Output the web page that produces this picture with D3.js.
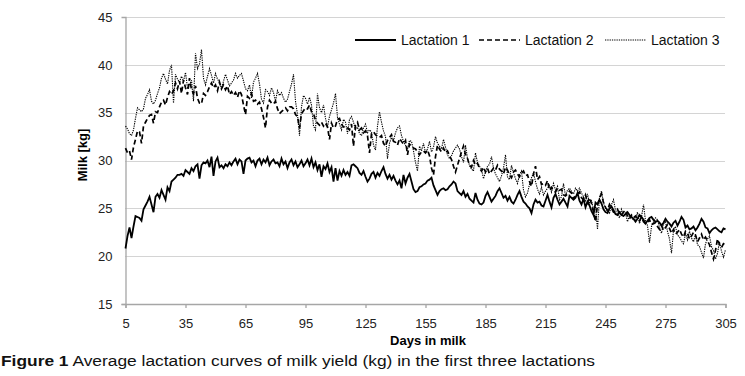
<!DOCTYPE html>
<html lang="en">
<head>
  <meta charset="UTF-8">
  <title>Average lactation curves</title>
  <script src="https://d3js.org/d3.v7.min.js"></script>
  <style>
    body {
      margin: 0;
      padding: 0;
      background: #fff;
      font-family: "Liberation Sans", Arial, sans-serif;
    }
    svg { display: block; }
    .axis path, .axis line { stroke: #a6a6a6; stroke-width: 1.3px; }
    .axis text { font-size: 13px; fill: #222; }
  </style>
</head>
<body>
  <svg id="chart" width="745" height="376"></svg>

  <script>
    // daily average milk yield (kg), days 5..305
    const firstDay = 5;

    const lactation1 = [
      20.8, 22.1, 23.0, 21.9, 23.1, 24.2, 24.1, 24.0, 23.7, 24.9,
      25.3, 25.7, 26.2, 25.4, 24.6, 26.2, 26.5, 26.1, 26.9, 26.4,
      25.9, 27.2, 26.8, 27.8, 28.0, 28.2, 28.5, 28.5, 28.6, 28.4,
      29.0, 28.8, 28.6, 29.2, 28.9, 29.4, 29.6, 28.1, 29.5, 29.8,
      29.7, 30.0, 29.3, 30.4, 28.4, 29.9, 30.3, 29.3, 29.5, 29.2,
      29.6, 29.4, 29.8, 29.5, 29.9, 30.2, 29.6, 30.1, 29.9, 28.6,
      30.0, 30.2, 30.3, 29.8, 30.0, 29.4, 30.0, 30.2, 29.6, 30.1,
      29.8, 30.3, 29.5, 29.9, 30.1, 29.7, 29.8, 29.4, 30.2, 29.6,
      29.9, 29.2, 29.8, 30.1, 29.5, 29.9, 29.3, 29.6, 30.0, 29.4,
      29.7, 30.1, 29.5, 30.2, 29.3, 29.8, 29.0, 29.6, 28.3, 29.4,
      29.1, 29.7, 28.8, 29.3, 27.8, 29.2, 27.9, 28.9, 28.4, 29.0,
      28.5, 28.8, 28.4, 29.5, 29.6, 29.4, 29.2, 28.7, 28.5, 28.9,
      28.3, 27.8, 28.1, 28.6, 28.8, 28.2, 28.7, 28.4, 28.9, 29.3,
      28.6, 28.1, 28.5, 28.0, 28.4, 27.9, 27.5, 27.9, 27.1, 28.5,
      27.6, 28.2, 28.6, 27.8, 27.0, 26.7, 26.8, 27.2, 27.3, 27.5,
      27.6, 27.9, 28.0, 28.2, 27.4, 26.9, 26.4, 26.8, 27.0, 27.1,
      26.9, 27.0, 27.3, 27.5, 27.8, 27.6, 26.8, 26.6, 26.4, 26.8,
      26.2, 26.5, 26.0, 25.8, 25.6, 26.6, 25.9, 25.5, 25.4, 25.6,
      26.3, 26.7, 26.2, 25.7, 26.0, 26.3, 26.8, 27.1, 26.6, 26.1,
      26.3, 25.8, 26.2, 25.7, 25.5, 25.9, 26.4, 26.8, 26.2, 25.7,
      25.5, 25.2, 25.0, 24.5, 25.4, 25.9, 25.6, 25.7, 25.3, 25.2,
      25.8, 26.4, 25.7, 25.1, 26.1, 26.5, 25.9, 25.4, 25.7, 26.0,
      25.6, 25.2, 26.3, 26.1, 25.9, 26.1, 26.6, 25.8, 25.4, 26.0,
      25.1, 25.7, 25.3, 24.7, 24.3, 25.6, 25.4, 25.9, 25.5, 24.9,
      24.6, 24.5, 25.0, 25.2, 24.8, 24.4, 24.3, 24.6, 24.3, 24.2,
      24.4, 24.6, 24.3, 24.1, 23.9, 23.6, 23.9, 24.3, 24.1, 23.8,
      23.4, 23.7, 24.0, 24.1, 23.8, 23.6, 23.7, 23.5, 23.2, 23.5,
      23.9, 23.6, 23.4, 23.1, 23.5, 23.7, 23.2, 23.6, 24.1, 23.8,
      23.0, 23.2, 22.8, 22.9, 23.1, 22.7, 23.0, 23.4, 23.9, 23.6,
      23.0, 22.9, 22.4, 22.7, 22.9, 23.0, 22.8, 22.6, 22.5, 22.9,
      22.8
    ];

    const lactation2 = [
      31.3, 30.8, 31.0, 30.1, 31.4, 32.2, 33.1, 33.0, 31.8, 33.6,
      34.0, 34.4, 34.7, 34.8, 33.9, 35.1, 35.0, 35.6, 36.1, 36.3,
      35.8, 36.6, 37.2, 36.9, 37.3, 38.1, 37.5, 38.3, 37.0, 38.4,
      37.6, 36.9, 38.6, 37.4, 37.0, 37.8, 36.5, 36.0, 35.9, 37.0,
      36.8, 37.2, 37.7, 38.1, 37.6, 37.9, 37.3, 38.2, 37.5, 37.9,
      37.4, 37.8, 36.9, 37.2, 36.8, 37.1, 36.6, 37.3, 36.9, 35.8,
      34.8, 36.7, 36.5, 37.0, 36.2, 36.3, 35.9, 36.1, 35.4, 34.5,
      33.4, 35.6, 36.3, 36.0, 35.9, 36.2, 35.4, 34.9, 35.1, 35.3,
      35.5, 35.2, 35.6, 35.6, 35.4, 34.8, 34.6, 33.4, 34.9, 35.2,
      35.5, 35.4, 35.8, 35.1, 34.9, 34.2, 33.9, 33.7, 34.0, 33.6,
      33.9, 33.5, 32.2, 33.9, 33.4, 33.6, 34.3, 34.4, 33.8, 33.5,
      33.6, 33.4, 33.2, 33.8, 31.5, 33.7, 34.0, 33.2, 33.4, 32.9,
      33.1, 32.6, 30.8, 32.8, 33.0, 32.7, 32.5, 32.4, 32.6, 31.8,
      31.5, 32.1, 32.4, 32.7, 32.0, 31.9, 31.6, 32.3, 32.0, 31.7,
      32.1, 30.6, 31.7, 31.5, 31.3, 31.2, 30.9, 30.6, 30.9, 31.0,
      30.8, 31.1, 30.5, 29.2, 28.5, 30.4, 31.6, 31.2, 30.9, 31.3,
      30.8, 31.0, 30.5, 30.1, 29.4, 28.8, 29.5, 30.2, 30.9, 31.5,
      30.6, 30.2, 29.5, 29.3, 30.0, 29.5, 29.7, 29.2, 28.9, 29.3,
      28.8, 29.2, 28.6, 28.9, 29.2, 29.0, 29.5, 29.1, 28.9, 28.6,
      29.3, 29.0, 28.5, 28.2, 28.8, 29.0, 28.6, 28.3, 28.7, 28.9,
      28.4, 28.5, 27.8, 27.3, 28.6, 29.4, 28.0, 28.3, 27.5, 27.6,
      27.4, 27.9, 26.9, 27.2, 26.8, 26.7, 27.1, 26.9, 27.0, 26.4,
      26.3, 26.5, 26.8, 26.6, 26.0, 26.3, 26.5, 26.7, 26.1, 25.9,
      26.4, 25.6, 26.1, 25.5, 24.6, 23.6, 25.4, 26.0, 26.5, 25.6,
      25.1, 24.8, 25.4, 25.0, 24.6, 24.7, 24.9, 24.4, 24.3, 24.6,
      24.8, 24.2, 23.9, 24.3, 24.0, 24.2, 23.9, 23.7, 24.1, 23.6,
      23.4, 23.5, 23.8, 23.3, 23.4, 23.5, 23.1, 22.8, 23.2, 22.7,
      23.0, 23.3, 22.9, 22.4, 22.8, 22.3, 22.5, 22.8, 22.3, 22.0,
      22.6, 22.4, 21.8, 22.1, 22.5, 22.2, 21.5, 21.9, 22.3, 21.7,
      22.0, 21.6, 21.2, 20.4, 19.7, 20.6, 21.8, 21.2, 20.9, 21.3,
      21.2
    ];

    const lactation3 = [
      33.6, 33.3, 32.8, 32.6, 33.2, 34.4, 35.5, 35.3, 35.1, 35.4,
      36.5, 36.9, 37.4, 36.2, 35.9, 36.3, 37.0, 37.6, 38.6, 39.1,
      38.5, 38.0, 39.4, 40.0, 36.0, 39.0, 38.5, 38.2, 38.8, 38.3,
      39.2, 37.6, 37.9, 38.4, 36.2, 41.2, 39.6, 40.1, 41.6, 38.6,
      37.9, 38.8, 39.6, 38.9, 38.1, 39.1, 38.5, 38.2, 37.5, 38.3,
      39.0, 38.4, 37.8, 38.1, 38.4, 39.1, 38.6, 38.9, 39.1, 38.3,
      37.5, 37.3, 37.9, 36.5, 38.2, 38.6, 39.1, 38.0, 36.4, 36.0,
      37.4, 37.2, 36.8, 37.6, 37.1, 36.2, 37.3, 36.8, 37.1, 36.5,
      36.1, 36.4, 37.2, 38.0, 39.0, 36.2, 34.8, 32.6, 35.6, 36.8,
      36.5, 35.9, 36.6, 35.8, 33.6, 33.2, 37.0, 35.5, 35.0, 35.8,
      34.4, 33.5, 34.6, 35.3, 36.0, 37.0, 34.5, 33.8, 33.2, 34.3,
      34.0, 32.8, 34.3, 34.6, 34.0, 33.2, 33.5, 32.8, 32.6, 33.4,
      33.8, 32.9, 33.2, 33.0, 31.6, 31.1, 33.6, 35.1, 34.0, 33.1,
      32.5, 30.2, 31.8, 32.4, 32.1, 32.9, 33.4, 33.6, 32.6, 32.0,
      31.6, 31.2, 32.1, 32.0, 31.0, 29.8, 28.9, 31.5, 31.0, 31.8,
      30.8, 31.2, 32.0, 30.9, 31.4, 32.5, 31.8, 31.5, 31.2, 32.2,
      31.4, 30.6, 30.2, 30.5, 31.0, 31.3, 31.6, 31.2, 30.4, 29.8,
      31.6, 30.2, 29.5, 29.1, 28.9, 30.8, 29.8, 29.4, 29.1, 28.1,
      28.8, 29.4, 29.6, 30.4, 29.2, 28.6, 28.2, 27.8, 28.4, 29.2,
      30.6, 28.3, 28.0, 29.5, 28.7, 28.1, 27.6, 28.5, 28.9, 26.9,
      26.2, 26.6, 27.5, 28.2, 28.7, 27.8, 27.0, 26.5, 27.2, 26.4,
      26.8, 27.1, 27.4, 26.7, 27.6, 26.9, 27.3, 25.9, 26.2, 27.6,
      26.3, 26.9, 27.1, 26.8, 26.5, 27.1, 26.8, 27.1, 26.6, 26.2,
      25.7, 26.5, 25.6, 25.8, 24.9, 25.2, 22.8, 26.2, 26.8, 25.6,
      25.0, 24.7, 24.5, 25.4, 25.9, 24.8, 24.4, 24.0, 24.9, 24.2,
      24.5, 23.6, 24.3, 24.0, 23.8, 23.9, 24.6, 23.4, 24.1, 25.4,
      23.7, 23.2, 21.4, 23.1, 23.6, 24.0, 23.8, 23.0, 22.4, 23.4,
      23.6, 22.6, 21.8, 20.3, 22.7, 23.1, 22.2, 22.0, 21.6, 21.3,
      22.4, 21.7, 22.6, 21.9, 21.5, 22.3, 21.2, 21.0, 20.4, 19.8,
      21.3, 21.8, 22.1, 21.0, 20.6, 19.7, 20.3, 21.5, 20.5, 19.9,
      20.7
    ];

    const seriesNames = ["Lactation 1", "Lactation 2", "Lactation 3"];
    const xTicks = [5, 35, 65, 95, 125, 155, 185, 215, 245, 275, 305];
    const yTicks = [15, 20, 25, 30, 35, 40, 45];

    const svg = d3.select("#chart");

    const x = d3.scaleLinear().domain([5, 305]).range([125.5, 725.5]);
    const y = d3.scaleLinear().domain([15, 45]).range([304, 17]);

    // dotted grid
    svg.append("g")
      .selectAll("line")
      .data(yTicks.slice(1))
      .enter()
      .append("line")
      .attr("x1", x(5))
      .attr("x2", x(305))
      .attr("y1", d => Math.round(y(d)) + 0.5)
      .attr("y2", d => Math.round(y(d)) + 0.5)
      .attr("stroke", "#a8a8a8")
      .attr("stroke-width", 1)
      .attr("stroke-dasharray", "1,1");

    const yAxis = d3.axisLeft(y).tickValues(yTicks).tickSize(4).tickPadding(9);
    const xAxis = d3.axisBottom(x).tickValues(xTicks).tickSize(4).tickPadding(11).tickSizeOuter(4);

    svg.append("g")
      .attr("class", "axis")
      .attr("transform", "translate(125.5,0)")
      .call(yAxis)
      .call(g => g.selectAll(".tick line").filter(d => d !== 15).remove());

    svg.append("g")
      .attr("class", "axis")
      .attr("transform", "translate(0,304)")
      .call(xAxis);

    svg.selectAll(".axis .tick text").attr("font-family", null).attr("font-size", null);

    // curves
    const styles = [
      { data: lactation1, width: 1.8, dash: null },
      { data: lactation2, width: 1.7, dash: "5,3" },
      { data: lactation3, width: 1.1, dash: "1.3,1" }
    ];

    const line = d3.line()
      .x((d, i) => x(firstDay + i))
      .y(d => y(d));

    svg.append("g")
      .selectAll("path")
      .data(styles.slice().reverse())
      .enter()
      .append("path")
      .attr("d", s => line(s.data))
      .attr("fill", "none")
      .attr("stroke", "#000")
      .attr("stroke-width", s => s.width)
      .attr("stroke-dasharray", s => s.dash);

    // legend
    const legendX = [355, 479, 605];
    const legend = svg.append("g")
      .selectAll("g")
      .data(seriesNames)
      .enter()
      .append("g")
      .attr("transform", (d, i) => `translate(${legendX[i]},40)`);

    legend.append("line")
      .attr("x1", 0)
      .attr("x2", 41)
      .attr("stroke", "#000")
      .attr("stroke-width", (d, i) => styles[i].width)
      .attr("stroke-dasharray", (d, i) => styles[i].dash);

    legend.append("text")
      .attr("x", 46)
      .attr("dy", "0.35em")
      .attr("font-size", "14px")
      .attr("fill", "#111")
      .text(d => d);

    // axis titles
    svg.append("text")
      .attr("x", 428)
      .attr("y", 345)
      .attr("text-anchor", "middle")
      .attr("font-size", "13px")
      .attr("font-weight", "bold")
      .text("Days in milk");

    svg.append("text")
      .attr("transform", "translate(87,155) rotate(-90)")
      .attr("text-anchor", "middle")
      .attr("font-size", "13px")
      .attr("font-weight", "bold")
      .text("Milk [kg]");

    // figure caption (the original is a little stretched sideways)
    const caption = svg.append("text")
      .attr("x", 1)
      .attr("y", 366)
      .attr("font-size", "14px")
      .attr("fill", "#111")
      .attr("textLength", 594)
      .attr("lengthAdjust", "spacingAndGlyphs");
    caption.append("tspan").attr("font-weight", "bold").text("Figure 1");
    caption.append("tspan").text(" Average lactation curves of milk yield (kg) in the first three lactations");
  </script>
</body>
</html>
